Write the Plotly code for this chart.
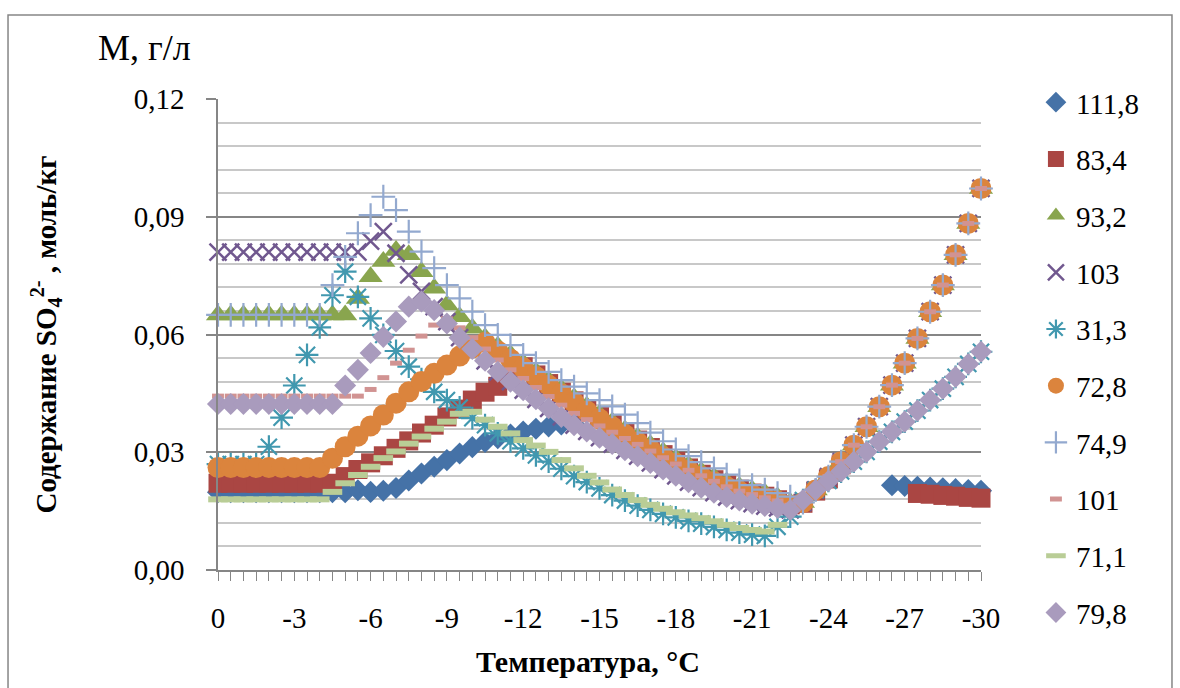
import plotly.graph_objects as go

temperature = [-0.5 * i for i in range(61)]
x_tick_vals = [0, -3, -6, -9, -12, -15, -18, -21, -24, -27, -30]
x_tick_text = ["0", "-3", "-6", "-9", "-12", "-15", "-18", "-21", "-24", "-27", "-30"]
y_tick_vals = [0, 0.03, 0.06, 0.09, 0.12]
y_tick_text = ["0,00", "0,03", "0,06", "0,09", "0,12"]

s_111_8 = [0.0198]*10 + [0.0198, 0.0203, 0.0199, 0.0202,
           0.0209, 0.0228, 0.0246, 0.0263, 0.028, 0.0297, 0.0313, 0.0326, 0.0336, 0.0345,
           0.0353, 0.036, 0.0366, 0.0371, 0.0372] + [None]*24 + \
          [0.0216, 0.0214, 0.0212, 0.021, 0.0208, 0.0206, 0.0204, 0.0202]

s_83_4 = [0.0221]*10 + [0.0238, 0.0256, 0.0273, 0.0291, 0.031, 0.0329, 0.0349, 0.0369,
          0.039, 0.041, 0.0433, 0.0453, 0.0468, 0.0497, 0.0518, 0.0497, 0.0475, 0.0453,
          0.0431, 0.041, 0.0391, 0.0371, 0.035, 0.0331, 0.0312, 0.0294, 0.0277, 0.026,
          0.0244, 0.023, 0.0217, 0.0206, 0.0196, 0.0188, 0.0179, 0.0166, 0.017, 0.0201,
          0.0232, 0.0268] + [None]*5 + [0.0195, 0.0193, 0.019, 0.0188, 0.0185, 0.0183]

s_72_8 = [0.0261]*9 + [0.0285, 0.0314, 0.0341, 0.0367, 0.0395, 0.0425, 0.0454, 0.048,
          0.0501, 0.0522, 0.0545, 0.0566, 0.058, 0.0558, 0.0537, 0.0515, 0.0493, 0.0471,
          0.0449, 0.0427, 0.0405, 0.0385, 0.0365, 0.0345, 0.0326, 0.0307, 0.0289, 0.0272,
          0.0255, 0.0239, 0.0225, 0.0212, 0.0201, 0.0192, 0.0184, 0.0176, 0.0165, 0.0172,
          0.0204, 0.0238, 0.0276, 0.0318, 0.0365, 0.0416, 0.0471, 0.0527, 0.059, 0.0658,
          0.0726, 0.0803, 0.0883, 0.0972]

s_93_2 = [0.065]*11 + [0.0692, 0.0747, 0.0786, 0.0814, 0.0803, 0.076, 0.0718, 0.0675,
          0.0645, 0.0616, 0.0592, 0.057, 0.0549, 0.0527, 0.0505, 0.0483, 0.0461, 0.0439,
          0.0417, 0.0397, 0.0377, 0.0357, 0.0338, 0.0319, 0.0301, 0.0284, 0.0267, 0.0251,
          0.0237, 0.0224, 0.0213, 0.0204, 0.0196, 0.0186, 0.0172, 0.0172, 0.0204, 0.0238,
          0.0276, 0.0318, 0.0365, 0.0416, 0.0471, 0.0527, 0.059, 0.0658, 0.0726, 0.0803,
          0.0883, 0.0972]

s_103 = [0.081]*12 + [0.0838, 0.0862, 0.0807, 0.0752, 0.071, 0.0671, 0.0633, 0.0592,
         0.0563, 0.0533, 0.0505, 0.048, 0.0458, 0.0435, 0.0412, 0.039, 0.0369, 0.0353,
         0.0337, 0.0321, 0.0305, 0.029, 0.0273, 0.0256, 0.024, 0.0224, 0.021, 0.0197,
         0.0186, 0.0177, 0.0169, 0.0163, 0.0158, 0.0153, 0.0172, 0.0204, 0.0238, 0.0276,
         0.0318, 0.0365, 0.0416, 0.0471, 0.0527, 0.059, 0.0658, 0.0726, 0.0803, 0.0883,
         0.0972]

s_31_3 = [0.027]*4 + [0.0314, 0.0388, 0.047, 0.0548, 0.0618, 0.07, 0.076, 0.0696, 0.0641,
          0.0599, 0.0558, 0.0518, 0.0486, 0.0454, 0.0433, 0.0414, 0.0387, 0.0369, 0.0348,
          0.0328, 0.031, 0.0292, 0.0276, 0.0258, 0.0239, 0.0224, 0.0208, 0.0191, 0.0177,
          0.0164, 0.0153, 0.0143, 0.0134, 0.0125, 0.0118, 0.011, 0.0102, 0.0095, 0.009,
          0.0087, 0.011, 0.0136, 0.0178, 0.0204, 0.0227, 0.0251, 0.0276, 0.0301, 0.0327,
          0.0352, 0.0378, 0.0406, 0.0433, 0.0462, 0.0492, 0.0525, 0.0556]

s_74_9 = [0.065]*9 + [0.0726, 0.0798, 0.0858, 0.0904, 0.0951, 0.0917, 0.0862, 0.0811,
          0.0769, 0.0726, 0.0692, 0.0658, 0.0624, 0.0599, 0.0573, 0.0548, 0.0527, 0.0505,
          0.0484, 0.0467, 0.045, 0.0433, 0.0417, 0.0396, 0.0374, 0.035, 0.0328, 0.0307,
          0.029, 0.0275, 0.0259, 0.0243, 0.0228, 0.0216, 0.0205, 0.0196, 0.0187, 0.0172,
          0.0204, 0.0238, 0.0276, 0.0318, 0.0365, 0.0416, 0.0471, 0.0527, 0.059, 0.0658,
          0.0726, 0.0803, 0.0883, 0.0972]

s_101 = [0.0443]*12 + [0.046, 0.049, 0.0527, 0.056, 0.0596, 0.0624, 0.064, 0.0617,
         0.0592, 0.0563, 0.0535, 0.051, 0.0488, 0.0465, 0.0442, 0.042, 0.0399, 0.0383,
         0.0367, 0.0351, 0.0335, 0.032, 0.0303, 0.0286, 0.027, 0.0254, 0.024, 0.0226,
         0.0212, 0.0201, 0.0192, 0.0184, 0.0176, 0.0165, 0.0172, 0.0204, 0.0238, 0.0276,
         0.0318, 0.0365, 0.0416, 0.0471, 0.0527, 0.059, 0.0658, 0.0726, 0.0803, 0.0883,
         0.0972]

s_71_1 = [0.018]*9 + [0.0199, 0.0221, 0.0242, 0.0263, 0.0285, 0.0302, 0.0322, 0.034,
          0.036, 0.0378, 0.0398, 0.0403, 0.0383, 0.0365, 0.0348, 0.0331, 0.0317, 0.0301,
          0.028, 0.0259, 0.024, 0.0223, 0.0205, 0.0191, 0.0178, 0.0166, 0.0156, 0.0147,
          0.0139, 0.0132, 0.0124, 0.0115, 0.0107, 0.0102, 0.0098, 0.0115] + [None]*16

s_79_8 = [0.0423]*10 + [0.047, 0.051, 0.0553, 0.0594, 0.0633, 0.0671, 0.0684, 0.0662,
          0.0628, 0.0592, 0.0563, 0.0533, 0.0505, 0.048, 0.0458, 0.0435, 0.0412, 0.039,
          0.0369, 0.0353, 0.0337, 0.0321, 0.0305, 0.029, 0.0273, 0.0256, 0.024, 0.0224,
          0.021, 0.0197, 0.0186, 0.0177, 0.0169, 0.0163, 0.0158, 0.0153, 0.0178, 0.0204,
          0.0227, 0.0251, 0.0276, 0.0301, 0.0327, 0.0352, 0.0378, 0.0406, 0.0433, 0.0462,
          0.0492, 0.0525, 0.0556]

series = [
    ("111,8", s_111_8, "diamond", 17, "#4572A7", 0),
    ("83,4", s_83_4, "square", 19, "#AA4643", 0),
    ("93,2", s_93_2, "triangle-up", 21, "#89A54E", 0),
    ("103", s_103, "x-thin-open", 17, "#71588F", 2.5),
    ("31,3", s_31_3, "asterisk-open", 19, "#4198AF", 2.2),
    ("72,8", s_72_8, "circle", 21, "#DB843D", 0),
    ("74,9", s_74_9, "cross-thin-open", 17, "#93A9CF", 2.2),
    ("101", s_101, "line-ew-open", 8.5, "#D19392", 5),
    ("71,1", s_71_1, "line-ew-open", 14, "#B9CD96", 6),
    ("79,8", s_79_8, "diamond", 17, "#A99BBD", 0),
]

FONT = "Liberation Serif, Times New Roman, serif"
fig = go.Figure()
for name, vals, sym, size, color, lw in series:
    marker = dict(symbol=sym, size=size, color=color)
    if lw:
        marker["line"] = dict(width=lw, color=color)
    else:
        marker["line"] = dict(width=0)
    fig.add_trace(go.Scatter(x=temperature, y=vals, mode="markers", name=name,
                             marker=marker, cliponaxis=False, legendgroup=name))

grid_major = "#868686"
fig.update_layout(
    width=1180, height=688,
    margin=dict(l=218, r=199, t=99, b=118),
    paper_bgcolor="white", plot_bgcolor="white",
    font=dict(family=FONT, size=29, color="black"),
    showlegend=True,
    legend=dict(x=1.072, y=1.047, xanchor="left", yanchor="top",
                font=dict(family=FONT, size=29), tracegroupgap=16, maxheight=640,
                bgcolor="rgba(0,0,0,0)"),
    xaxis=dict(range=[0, -30], tickmode="array", tickvals=x_tick_vals, ticktext=x_tick_text,
               ticks="outside", ticklen=9, tickcolor=grid_major, tickwidth=1,
               showline=True, linecolor=grid_major, linewidth=1.5,
               showgrid=False, zeroline=False, ticklabelstandoff=12,
               tickfont=dict(family=FONT, size=29),
               minor=dict(tickmode="array", tickvals=temperature, ticks="outside",
                          ticklen=9, tickcolor=grid_major, tickwidth=1, showgrid=False)),
    yaxis=dict(range=[0, 0.12], tickmode="array", tickvals=y_tick_vals, ticktext=y_tick_text,
               ticks="outside", ticklen=10, tickcolor=grid_major, tickwidth=1.5,
               showline=True, linecolor=grid_major, linewidth=1.5,
               showgrid=True, gridcolor=grid_major, gridwidth=1.5, zeroline=False,
               ticklabelstandoff=16, tickfont=dict(family=FONT, size=29),
               minor=dict(tickmode="linear", tick0=0, dtick=0.006, showgrid=True,
                          gridcolor="#C8C8C8", gridwidth=1.5, ticks="")),
    shapes=[dict(type="rect", xref="paper", yref="paper",
                 x0=-0.2752, x1=1.2503, y0=-0.276, y1=1.1783,
                 line=dict(color=grid_major, width=1.5), fillcolor="rgba(0,0,0,0)", layer="below")],
    annotations=[
        dict(text="М, г/л", xref="paper", yref="paper", x=-0.0957, y=1.108,
             xanchor="center", yanchor="middle", showarrow=False,
             font=dict(family=FONT, size=36)),
        dict(text="<b>Содержание SO<sub>4</sub><sup>2-</sup> , моль/кг</b>", xref="paper", yref="paper",
             x=-0.2267, y=0.5, xanchor="center", yanchor="middle", showarrow=False, textangle=-90,
             font=dict(family=FONT, size=29)),
        dict(text="<b>Температура, °C</b>", xref="paper", yref="paper", x=0.485, y=-0.195,
             xanchor="center", yanchor="middle", showarrow=False,
             font=dict(family=FONT, size=30)),
    ],
)

fig.write_html("out.html")
